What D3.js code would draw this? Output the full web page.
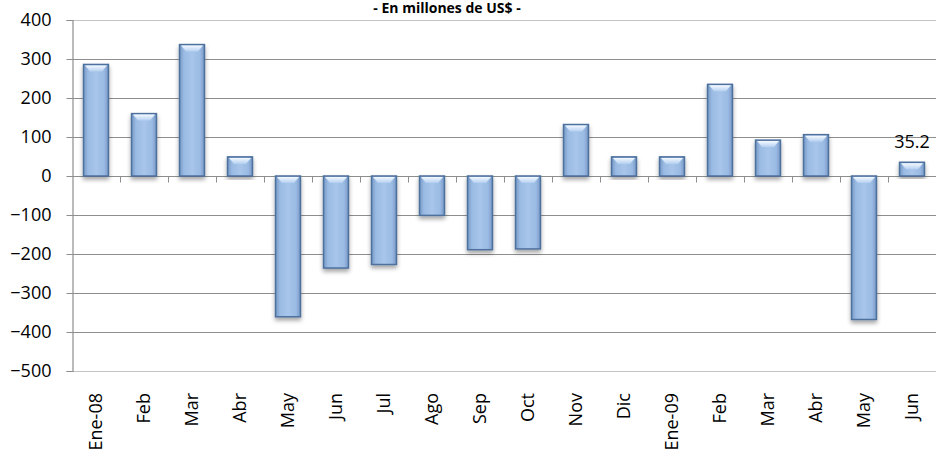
<!DOCTYPE html>
<html>
<head>
<meta charset="utf-8">
<script src="https://cdn.jsdelivr.net/npm/d3@7"></script>
<style>
  body { margin: 0; background: #fff; }
  text { font-family: "Open Sans", "DejaVu Sans", sans-serif; fill: #000; }
</style>
</head>
<body>
<div id="chart"></div>
<script>
// data
var months = ["Ene-08", "Feb", "Mar", "Abr", "May", "Jun", "Jul", "Ago", "Sep", "Oct",
              "Nov", "Dic", "Ene-09", "Feb ", "Mar ", "Abr ", "May ", "Jun "];
var values = [286, 160, 337, 49, -361, -236, -227, -101, -189, -187,
              132, 49, 49, 235, 92, 106, -368, 35.2];
var yTicks = [400, 300, 200, 100, 0, -100, -200, -300, -400, -500];
var title = "- En millones de US$ -";

var width = 936, height = 458;
var plotLeft = 72, plotRight = 936, plotTop = 20, plotBottom = 371;

var svg = d3.select("#chart").append("svg")
	.attr("width", width)
	.attr("height", height);

var defs = svg.append("defs");

// bar gradient
var grad = defs.append("linearGradient").attr("id", "barGrad")
	.attr("x1", "0%").attr("x2", "100%").attr("y1", "0%").attr("y2", "0%");
grad.append("stop").attr("offset", "0%").attr("stop-color", "#7598c6");
grad.append("stop").attr("offset", "18%").attr("stop-color", "#9bbbe3");
grad.append("stop").attr("offset", "50%").attr("stop-color", "#a8c5ea");
grad.append("stop").attr("offset", "82%").attr("stop-color", "#9bbbe3");
grad.append("stop").attr("offset", "100%").attr("stop-color", "#7598c6");

var shine = defs.append("linearGradient").attr("id", "shine")
	.attr("x1", "0%").attr("x2", "0%").attr("y1", "0%").attr("y2", "100%");
shine.append("stop").attr("offset", "0%").attr("stop-color", "#f4f9ff");
shine.append("stop").attr("offset", "100%").attr("stop-color", "#b4cff0");

var shadow = defs.append("filter").attr("id", "shadow")
	.attr("x", "-20%").attr("y", "-20%").attr("width", "140%").attr("height", "140%");
shadow.append("feDropShadow").attr("dx", 0).attr("dy", 3).attr("stdDeviation", 2)
	.attr("flood-color", "#000").attr("flood-opacity", 0.35);

// scales
var x = d3.scaleBand().domain(months).range([plotLeft, plotRight])
	.paddingInner(0.48).paddingOuter(0.24);
var y = d3.scaleLinear().domain([-500, 400]).range([plotBottom, plotTop]);

// gridlines
svg.append("g").selectAll("line")
	.data(yTicks).enter()
	.append("line")
	.attr("x1", plotLeft).attr("x2", plotRight)
	.attr("y1", d => Math.round(y(d)) + 0.5)
	.attr("y2", d => Math.round(y(d)) + 0.5)
	.attr("stroke", d => (d == 400 || d == -500) ? "#c4c4c4" : "#8e8e8e")
	.attr("stroke-width", 1.2);

// y axis
var yAxis = d3.axisLeft(y).tickValues(yTicks).tickSize(6).tickPadding(15);
var gy = svg.append("g").attr("transform", "translate(" + (plotLeft + 0.5) + ",0)").call(yAxis);
gy.select(".domain").attr("stroke", "#8e8e8e").attr("stroke-width", 1.2);
gy.selectAll(".tick line").attr("stroke", "#8e8e8e");
gy.selectAll(".tick text").style("font-size", "18px").attr("fill", "#000")
	.style("font-family", "'Open Sans', sans-serif");

// zero line with category ticks
var zy = Math.round(y(0)) + 0.5;
svg.append("line")
	.attr("x1", plotLeft).attr("x2", plotRight).attr("y1", zy).attr("y2", zy)
	.attr("stroke", "#8e8e8e").attr("stroke-width", 1.2);
var step = x.step();
svg.append("g").selectAll("line")
	.data(months.slice(1)).enter()
	.append("line")
	.attr("x1", d => Math.round(x(d) - step * 0.24) + 0.5)
	.attr("x2", d => Math.round(x(d) - step * 0.24) + 0.5)
	.attr("y1", zy).attr("y2", zy + 6)
	.attr("stroke", "#8e8e8e");

// bars
var bars = svg.append("g").selectAll("g")
	.data(months).enter()
	.append("g");

bars.append("rect")
	.attr("x", d => x(d))
	.attr("width", x.bandwidth())
	.attr("y", (d, i) => y(Math.max(0, values[i])))
	.attr("height", (d, i) => Math.abs(y(values[i]) - y(0)))
	.attr("fill", "url(#barGrad)")
	.attr("stroke", "#4d6f9c")
	.attr("stroke-width", 1.5)
	.attr("filter", "url(#shadow)");

// top bevel highlight
bars.append("path")
	.attr("d", function(d, i){
		var x0 = x(d) + 1.5, x1 = x(d) + x.bandwidth() - 1.5;
		var t = y(Math.max(0, values[i])) + 1;
		var h = Math.min(6, Math.abs(y(values[i]) - y(0)) - 2);
		return "M" + x0 + "," + t + "L" + x1 + "," + t +
			"L" + (x1 - 5) + "," + (t + h) + "L" + (x0 + 5) + "," + (t + h) + "Z";
	})
	.attr("fill", "url(#shine)");

// data label on last bar
var last = months.length - 1;
svg.append("text")
	.attr("x", x(months[last]) + x.bandwidth() / 2)
	.attr("y", y(values[last]) - 14)
	.attr("text-anchor", "middle")
	.style("font-size", "18px")
	.text(values[last].toFixed(1));

// x labels, rotated
svg.append("g").selectAll("text")
	.data(months).enter()
	.append("text")
	.attr("transform", d => "translate(" + (x(d) + x.bandwidth() / 2 + 6) + ",393) rotate(-90)")
	.attr("text-anchor", "end")
	.style("font-size", "18px")
	.text(d => d.trim());

// title
svg.append("text")
	.attr("x", 447).attr("y", 13)
	.attr("text-anchor", "middle")
	.style("font-size", "14px")
	.style("font-weight", "bold")
	.text(title);
</script>
</body>
</html>
